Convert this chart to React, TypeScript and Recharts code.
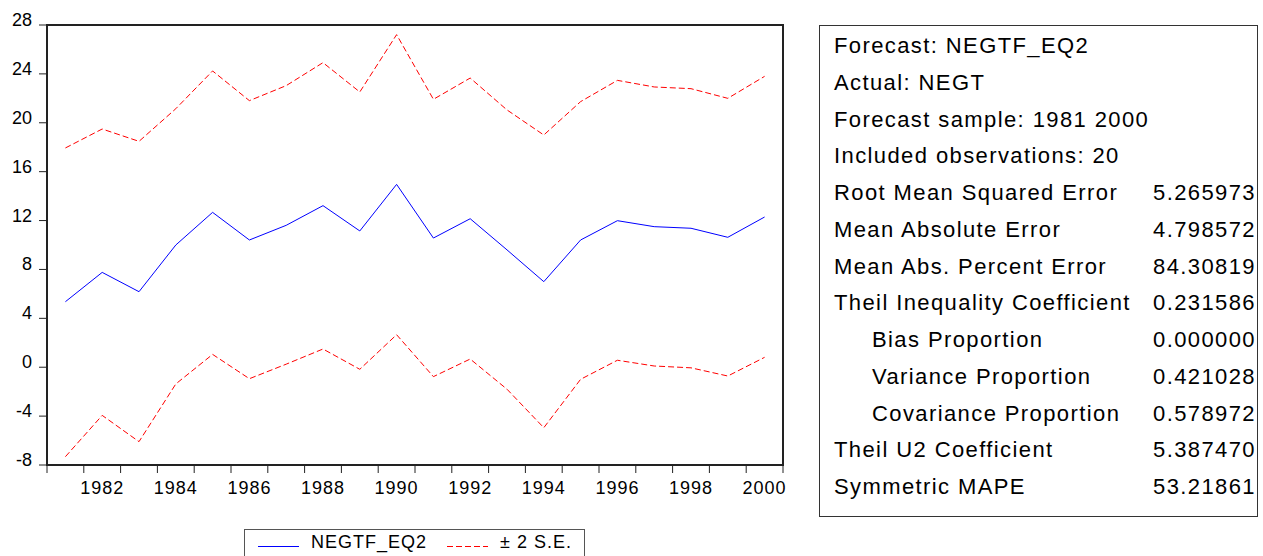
import { LineChart, Line, XAxis, YAxis, ReferenceArea, Legend } from "recharts";

// forecast sample, one point per year
const years = [
  1981, 1982, 1983, 1984, 1985, 1986, 1987, 1988, 1989, 1990,
  1991, 1992, 1993, 1994, 1995, 1996, 1997, 1998, 1999, 2000
];

const forecast = [
  5.36, 7.76, 6.18, 10.0, 12.67, 10.41, 11.61, 13.22, 11.15, 14.96,
  10.57, 12.15, 9.6, 7.0, 10.41, 11.99, 11.5, 11.37, 10.63, 12.29
];

const upperBand = [
  17.94, 19.49, 18.48, 21.15, 24.24, 21.81, 23.04, 24.92, 22.52, 27.21,
  21.92, 23.66, 21.05, 19.0, 21.73, 23.47, 22.93, 22.79, 22.0, 23.8
];

const lowerBand = [
  -7.32, -3.94, -6.09, -1.37, 1.05, -0.94, 0.25, 1.49, -0.17, 2.66,
  -0.77, 0.67, -1.8, -4.95, -0.99, 0.57, 0.1, -0.05, -0.72, 0.81
];

// tick marks sit on the year boundaries, labels on every other year
const yearBounds = [
  1980.5, 1981.5, 1982.5, 1983.5, 1984.5, 1985.5, 1986.5, 1987.5, 1988.5, 1989.5,
  1990.5, 1991.5, 1992.5, 1993.5, 1994.5, 1995.5, 1996.5, 1997.5, 1998.5, 1999.5, 2000.5
];
const yearLabels = [1982, 1984, 1986, 1988, 1990, 1992, 1994, 1996, 1998, 2000];
const yTicks = [-8, -4, 0, 4, 8, 12, 16, 20, 24, 28];

const statLabels = [
  "Forecast: NEGTF_EQ2",
  "Actual: NEGT",
  "Forecast sample: 1981 2000",
  "Included observations: 20",
  "Root Mean Squared Error",
  "Mean Absolute Error",
  "Mean Abs. Percent Error",
  "Theil Inequality Coefficient",
  "Bias Proportion",
  "Variance Proportion",
  "Covariance Proportion",
  "Theil U2 Coefficient",
  "Symmetric MAPE"
];
const statValues = [
  "", "", "", "",
  "5.265973", "4.798572", "84.30819", "0.231586",
  "0.000000", "0.421028", "0.578972", "5.387470", "53.21861"
];
const statIndent = [false, false, false, false, false, false, false, false, true, true, true, false, false];

const data = years.map((year, i) => ({
  year,
  forecast: forecast[i],
  upper: upperBand[i],
  lower: lowerBand[i]
}));

const FONT = '"Liberation Sans", Arial, Helvetica, sans-serif';
const CHART_W = 800;
const CHART_H = 556;
const PLOT_LEFT = 47;
const PLOT_RIGHT = 783;
const HALF_YEAR_PX = (PLOT_RIGHT - PLOT_LEFT) / years.length / 2;

function YearTick(props: any) {
  const { x, y, payload } = props;
  const year = payload.value + 0.5;
  if (!yearLabels.includes(year)) return <g />;
  return (
    <text
      x={x + HALF_YEAR_PX}
      y={y}
      dy={19}
      textAnchor="middle"
      fontSize={18}
      fontFamily={FONT}
      letterSpacing={1}
      fill="#000"
    >
      {year}
    </text>
  );
}

function ValueTick(props: any) {
  const { x, y, payload } = props;
  return (
    <text x={x} y={y} dy={1} textAnchor="end" fontSize={18} fontFamily={FONT} fill="#000">
      {payload.value}
    </text>
  );
}

function LegendBox(props: any) {
  const items = (props.payload || []).filter((p: any) => p.type !== "none");
  return (
    <svg width={341} height={27} style={{ display: "block" }}>
      <rect x={0.5} y={0.5} width={340} height={40} fill="#fff" stroke="#555" />
      {items.map((entry: any, i: number) => {
        const x0 = 14 + i * 189;
        return (
          <g key={entry.value}>
            <line
              x1={x0}
              x2={x0 + 41}
              y1={17.5}
              y2={17.5}
              stroke={entry.color}
              strokeDasharray={entry.payload?.strokeDasharray}
            />
            <text x={x0 + 53} y={18.5} fontSize={18} fontFamily={FONT} letterSpacing={1} fill="#000">
              {entry.value}
            </text>
          </g>
        );
      })}
    </svg>
  );
}

export default function App() {
  return (
    <div
      style={{
        position: "absolute",
        left: 0,
        top: 0,
        width: 1263,
        height: 556,
        overflow: "hidden",
        background: "#fff",
        fontFamily: FONT
      }}
    >
      <LineChart
        width={CHART_W}
        height={CHART_H}
        data={data}
        margin={{ top: 25, right: CHART_W - PLOT_RIGHT, bottom: 61, left: 0 }}
      >
        <XAxis
          dataKey="year"
          type="number"
          domain={[1980.5, 2000.5]}
          ticks={yearBounds}
          interval={0}
          height={30}
          tickSize={8}
          tickMargin={2}
          stroke="#222"
          axisLine={false}
          tick={<YearTick />}
        />
        <YAxis
          type="number"
          domain={[-8, 28]}
          ticks={yTicks}
          interval={0}
          width={PLOT_LEFT}
          tickSize={8}
          tickMargin={7}
          stroke="#222"
          axisLine={false}
          tick={<ValueTick />}
        />
        <Line
          dataKey="upper"
          name="± 2 S.E."
          stroke="#ff0000"
          strokeWidth={1}
          strokeDasharray="6 3"
          dot={false}
          isAnimationActive={false}
        />
        <Line
          dataKey="lower"
          name="lower"
          stroke="#ff0000"
          strokeWidth={1}
          strokeDasharray="6 3"
          dot={false}
          legendType="none"
          isAnimationActive={false}
        />
        <Line
          dataKey="forecast"
          name="NEGTF_EQ2"
          stroke="#0000ff"
          strokeWidth={1}
          dot={false}
          isAnimationActive={false}
        />
        <ReferenceArea
          x1={1980.5}
          x2={2000.5}
          y1={-8}
          y2={28}
          fill="none"
          fillOpacity={0}
          stroke="#222"
          strokeWidth={2}
        />
        <Legend
          verticalAlign="middle"
          align="center"
          width={341}
          wrapperStyle={{ left: 244, top: 529, width: 341, height: 27 }}
          content={(p: any) => {
            const order = ["NEGTF_EQ2", "± 2 S.E."];
            const payload = [...(p.payload || [])].sort(
              (a: any, b: any) => order.indexOf(a.value) - order.indexOf(b.value)
            );
            return <LegendBox payload={payload} />;
          }}
        />
      </LineChart>

      <div
        style={{
          position: "absolute",
          left: 819,
          top: 25,
          width: 439,
          height: 492,
          border: "1px solid #333",
          boxSizing: "border-box",
          paddingTop: 2,
          paddingLeft: 14,
          paddingRight: 1,
          fontSize: 22,
          letterSpacing: 1.4,
          color: "#000"
        }}
      >
        {statLabels.map((label, i) => (
          <div
            key={label}
            style={{
              display: "flex",
              justifyContent: "space-between",
              height: 36.75,
              lineHeight: "36.75px",
              whiteSpace: "nowrap"
            }}
          >
            <span style={{ paddingLeft: statIndent[i] ? 38 : 0 }}>{label}</span>
            <span>{statValues[i]}</span>
          </div>
        ))}
      </div>
    </div>
  );
}
